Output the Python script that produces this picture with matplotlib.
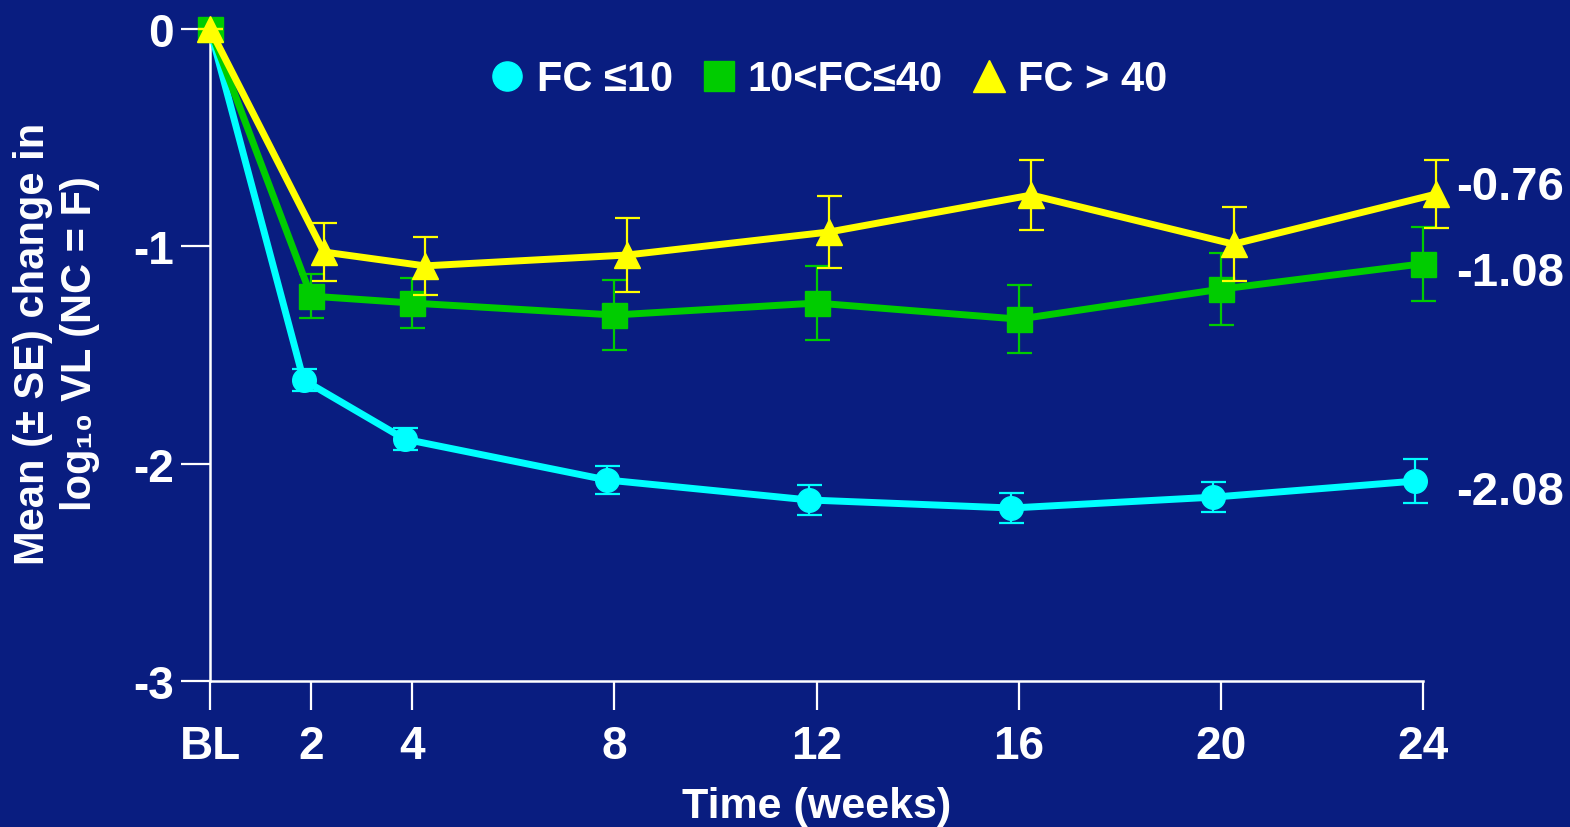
import matplotlib
matplotlib.use('Agg')
import matplotlib.pyplot as plt
from matplotlib.lines import Line2D

# data
weeks = [0, 2, 4, 8, 12, 16, 20, 24]
week_labels = ['BL', '2', '4', '8', '12', '16', '20', '24']

fc_low = [0, -1.615, -1.887, -2.075, -2.167, -2.204, -2.154, -2.08]
fc_low_se = [0, 0.05, 0.05, 0.065, 0.07, 0.07, 0.07, 0.1]

fc_mid = [0, -1.229, -1.261, -1.316, -1.261, -1.335, -1.197, -1.08]
fc_mid_se = [0, 0.1, 0.113, 0.16, 0.17, 0.155, 0.165, 0.17]

fc_high = [0, -1.026, -1.09, -1.04, -0.934, -0.764, -0.99, -0.76]
fc_high_se = [0, 0.133, 0.135, 0.17, 0.165, 0.16, 0.17, 0.155]

series_names = ['FC \u226410', '10<FC\u226440', 'FC > 40']
end_labels = ['-2.08', '-1.08', '-0.76']

BG = '#091d80'
FONT = ['Liberation Sans', 'DejaVu Sans']
plt.rcParams['font.family'] = FONT
plt.rcParams['font.weight'] = 'bold'

fig = plt.figure(figsize=(15.7, 8.28), dpi=100, facecolor=BG)
ax = fig.add_axes([0.1338, 0.1763, 0.9064 - 0.1338, 0.9638 - 0.1763])
ax.set_facecolor(BG)

styles = [
    dict(color='#00ffff', marker='o', ms=17, dodge=-0.15, z=3, lab_dy=-8),
    dict(color='#00cc00', marker='s', ms=18, dodge=0.0, z=4, lab_dy=-7),
    dict(color='#ffff00', marker='^', ms=19, dodge=0.25, z=5, lab_dy=5),
]
values = [(fc_low, fc_low_se), (fc_mid, fc_mid_se), (fc_high, fc_high_se)]

for (vals, se), st, lab, name in zip(values, styles, end_labels, series_names):
    xs = [w + st['dodge'] if w > 0 else w for w in weeks]
    ax.errorbar(xs, vals, yerr=se, color=st['color'], lw=5, marker=st['marker'],
                ms=st['ms'], elinewidth=1.6, capsize=9, capthick=1.6,
                zorder=st['z'], clip_on=False, label=name)
    ax.annotate(lab, xy=(24, vals[-1]), xytext=(24, st['lab_dy']), textcoords='offset points',
                ha='left', va='center', color='white', fontsize=34, fontweight='bold')

ax.set_xlim(0, 24)
ax.set_ylim(-3, 0)
ax.set_xticks(weeks)
ax.set_xticklabels(week_labels)
ax.set_yticks([0, -1, -2, -3])
ax.set_yticklabels(['0', '-1', '-2', '-3'])

for s in ['top', 'right']:
    ax.spines[s].set_visible(False)
for s in ['left', 'bottom']:
    ax.spines[s].set_color('white')
    ax.spines[s].set_linewidth(1.8)

ax.tick_params(axis='both', colors='white', length=21, width=1.6, labelsize=33)
ax.tick_params(axis='x', pad=10)
ax.tick_params(axis='y', pad=5)
for t in ax.get_xticklabels() + ax.get_yticklabels():
    t.set_fontweight('bold')

ax.set_xlabel('Time (weeks)', color='white', fontsize=31, fontweight='bold', labelpad=13)
fig.text(0.036, 0.585, 'Mean (\u00b1 SE) change in\nlog\u2081\u2080 VL (NC = F)', rotation=90,
         ha='center', va='center', color='white', fontsize=30, fontweight='bold',
         linespacing=1.2)

handles = [Line2D([], [], ls='none', marker=st['marker'], color=st['color'], ms=st['ms'] + 4)
           for st in styles]
leg = fig.legend(handles, series_names, loc='center', bbox_to_anchor=(0.528, 0.903),
                 ncol=3, frameon=False, handlelength=0.8, handletextpad=0.3,
                 columnspacing=0.7, prop=dict(family=FONT, weight='bold', size=30))
for t in leg.get_texts():
    t.set_color('white')

fig.savefig('out.png', dpi=100, facecolor=BG)
